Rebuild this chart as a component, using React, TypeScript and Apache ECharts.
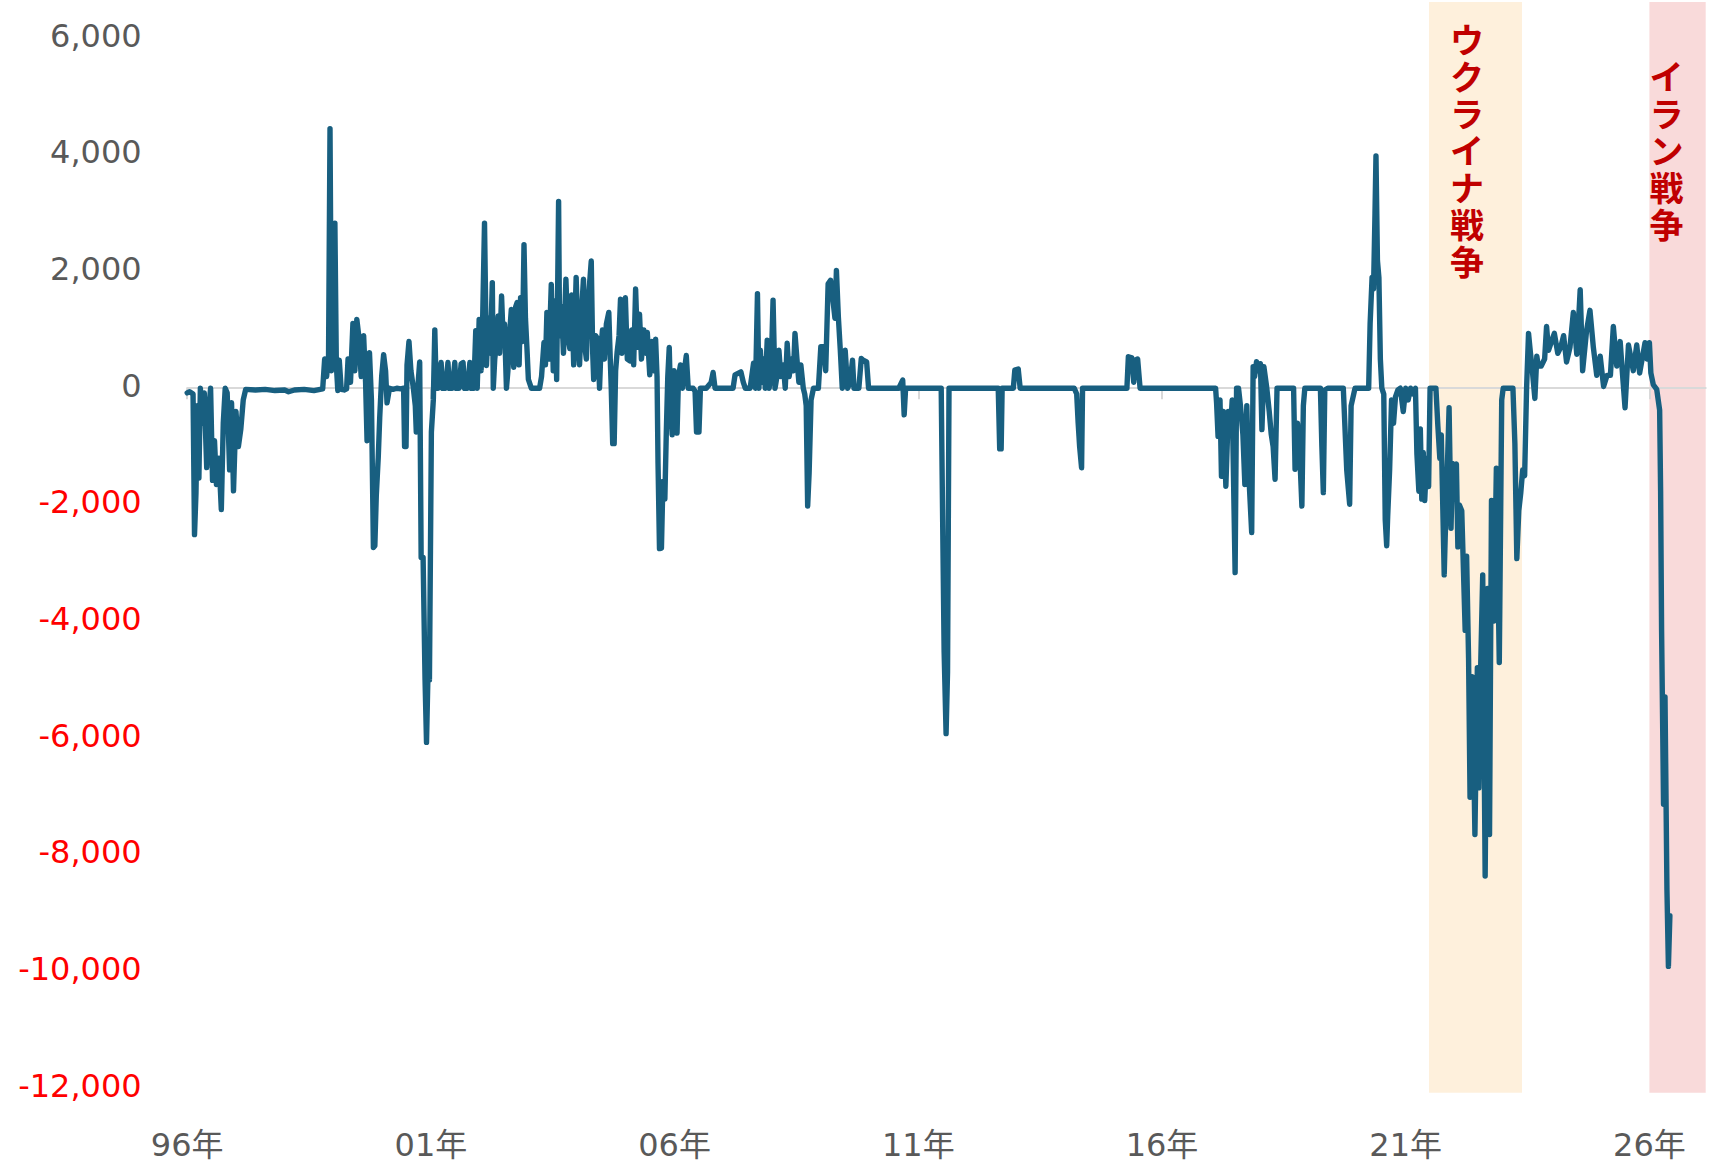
import React, { useEffect, useRef } from "react";
import * as echarts from "echarts";

// [decimal year, value]
const flows1996to2000: [number, number][] = [
  [1996.0, -80], [1996.05, -60], [1996.12, -100], [1996.15, -2510], [1996.18, -1800], [1996.21, -300],
  [1996.24, -1540], [1996.27, 0], [1996.31, -600], [1996.35, -80], [1996.4, -1360], [1996.44, -400],
  [1996.48, 0], [1996.52, -1580], [1996.56, -900], [1996.6, -1650], [1996.65, -1200], [1996.7, -2080],
  [1996.74, -600], [1996.78, 0], [1996.82, -80], [1996.87, -1400], [1996.91, -250], [1996.95, -1760],
  [1997.0, -400], [1997.05, -1000], [1997.1, -700], [1997.15, -200], [1997.2, -20], [1997.4, -30],
  [1997.6, -20], [1997.8, -40], [1998.0, -30], [1998.08, -60], [1998.2, -30], [1998.4, -20],
  [1998.6, -40], [1998.78, -10], [1998.82, 500], [1998.86, 200], [1998.9, 560], [1998.93, 4450],
  [1998.96, 300], [1999.0, 600], [1999.03, 2830], [1999.06, 400], [1999.09, -40], [1999.12, 480],
  [1999.16, -20], [1999.22, -30], [1999.27, -10], [1999.3, 500], [1999.35, 100], [1999.4, 1110],
  [1999.44, 300], [1999.48, 1180], [1999.52, 900], [1999.57, 200], [1999.62, 900], [1999.66, 100],
  [1999.69, -900], [1999.72, 0], [1999.74, 610], [1999.78, -200], [1999.82, -2730], [1999.85, -2700],
  [1999.88, -1830], [1999.92, -1180], [1999.95, -500], [1999.99, 200], [2000.03, 575], [2000.07, 300],
  [2000.1, -250], [2000.15, 0], [2000.22, -20], [2000.3, 0], [2000.38, -10], [2000.44, 0],
  [2000.46, -1000], [2000.49, -1000], [2000.51, 400], [2000.55, 800], [2000.59, 300], [2000.64, 0],
  [2000.68, -300], [2000.7, -750], [2000.73, 0], [2000.77, 450], [2000.8, -2900], [2000.84, -2900],
  [2000.88, -5000], [2000.91, -6070], [2000.95, -4500], [2000.97, -5000], [2001.01, -750],
  [2001.05, -200], [2001.08, 1000], [2001.11, 0],
];

const flows2001to2005: [number, number][] = [
  [2001.15, 0], [2001.21, 440], [2001.24, 0], [2001.3, 0], [2001.35, 440], [2001.38, 0], [2001.44, 0],
  [2001.49, 440], [2001.52, 0], [2001.58, 0], [2001.62, 420], [2001.66, 440], [2001.69, 0], [2001.75, 0],
  [2001.8, 440], [2001.83, 0], [2001.88, 0], [2001.92, 985], [2001.95, 0], [2001.99, 1180], [2002.03, 300],
  [2002.06, 1100], [2002.1, 2830], [2002.14, 390], [2002.18, 1200], [2002.22, 600], [2002.26, 1810],
  [2002.28, 0], [2002.31, 500], [2002.35, 800], [2002.38, 1240], [2002.41, 600], [2002.45, 1580],
  [2002.48, 900], [2002.51, 1100], [2002.55, 0], [2002.58, 300], [2002.62, 1000], [2002.65, 1350],
  [2002.7, 360], [2002.74, 1400], [2002.77, 1470], [2002.81, 400], [2002.84, 1550], [2002.88, 800],
  [2002.91, 2460], [2002.94, 1200], [2002.97, 700], [2003.0, 150], [2003.06, 0], [2003.15, 0],
  [2003.23, 0], [2003.27, 200], [2003.32, 785], [2003.35, 400], [2003.38, 1300], [2003.42, 500],
  [2003.47, 1780], [2003.51, 300], [2003.55, 1500], [2003.58, 150], [2003.62, 3200], [2003.64, 900],
  [2003.68, 1400], [2003.72, 600], [2003.77, 1870], [2003.81, 900], [2003.85, 680], [2003.89, 1600],
  [2003.93, 400], [2003.98, 1900], [2004.02, 800], [2004.05, 400], [2004.09, 1300], [2004.13, 1870],
  [2004.16, 700], [2004.19, 500], [2004.23, 1500], [2004.29, 2180], [2004.32, 600], [2004.34, 150],
  [2004.38, 900], [2004.42, 850], [2004.46, 0], [2004.49, 700], [2004.52, 1000], [2004.56, 500],
  [2004.6, 1100], [2004.65, 1300], [2004.68, 500], [2004.7, 0], [2004.73, -950], [2004.76, -950],
  [2004.79, 300], [2004.82, 615], [2004.86, 900], [2004.89, 1525], [2004.92, 600], [2004.96, 1200],
  [2004.99, 1550], [2005.03, 500], [2005.08, 470], [2005.12, 1000], [2005.16, 400], [2005.2, 1700],
  [2005.24, 700], [2005.28, 1270], [2005.32, 500], [2005.37, 1000], [2005.41, 600], [2005.44, 955],
  [2005.49, 230], [2005.53, 800], [2005.57, 300], [2005.61, 840], [2005.64, 200], [2005.66, -1290],
  [2005.69, -2750], [2005.73, -2740], [2005.76, -1600], [2005.8, -1900], [2005.83, -750], [2005.86, 200],
  [2005.89, 700], [2005.92, -300], [2005.95, -800], [2005.99, 300],
];

const flows2006to2010: [number, number][] = [
  [2006.05, -770], [2006.08, 200], [2006.12, 400], [2006.16, 0], [2006.2, 300], [2006.24, 560],
  [2006.28, 0], [2006.33, 0], [2006.38, 0], [2006.42, -50], [2006.45, -750], [2006.5, -750], [2006.53, 0],
  [2006.65, 0], [2006.75, 100], [2006.79, 270], [2006.83, 0], [2007.0, 0], [2007.2, 0], [2007.24, 230],
  [2007.3, 255], [2007.36, 280], [2007.41, 100], [2007.45, 0], [2007.55, 0], [2007.62, 430], [2007.66, 0],
  [2007.7, 1620], [2007.73, 0], [2007.76, 650], [2007.79, 100], [2007.83, 500], [2007.86, 0],
  [2007.9, 825], [2007.94, 0], [2007.98, 300], [2008.02, 1510], [2008.06, 0], [2008.1, 200],
  [2008.14, 650], [2008.18, 200], [2008.23, 400], [2008.27, 0], [2008.31, 770], [2008.35, 200],
  [2008.4, 500], [2008.44, 300], [2008.47, 940], [2008.51, 500], [2008.55, 100], [2008.59, 400],
  [2008.64, 0], [2008.67, -100], [2008.7, -300], [2008.73, -2020], [2008.76, -1450], [2008.8, -200],
  [2008.85, 0], [2008.95, 0], [2009.0, 710], [2009.06, 710], [2009.1, 300], [2009.15, 1790],
  [2009.2, 1850], [2009.25, 1500], [2009.29, 1200], [2009.32, 2020], [2009.36, 1220], [2009.4, 650],
  [2009.44, 0], [2009.5, 650], [2009.55, 0], [2009.6, 100], [2009.65, 480], [2009.68, 0], [2009.78, 0],
  [2009.83, 510], [2009.87, 480], [2009.94, 450], [2009.98, 0], [2010.2, 0], [2010.4, 0], [2010.6, 0],
  [2010.68, 140], [2010.71, -455], [2010.74, 0], [2010.9, 0], [2011.1, 0], [2011.3, 0], [2011.47, 0],
];

const flows2011to2015: [number, number][] = [
  [2011.5, -2300], [2011.53, -4520], [2011.57, -5920], [2011.6, -4860], [2011.63, 0], [2011.67, 0],
  [2011.9, 0], [2012.2, 0], [2012.5, 0], [2012.64, 0], [2012.67, -1040], [2012.7, -1040], [2012.72, 0],
  [2012.95, 0], [2012.98, 310], [2013.05, 330], [2013.09, 0], [2013.3, 0], [2013.6, 0], [2013.9, 0],
  [2014.2, 0], [2014.25, -100], [2014.28, -600], [2014.31, -1000], [2014.35, -1365], [2014.37, 0],
  [2014.6, 0], [2014.9, 0], [2015.2, 0], [2015.28, 0], [2015.31, 540], [2015.38, 520], [2015.42, 100],
  [2015.45, 480], [2015.5, 500], [2015.55, 0], [2015.8, 0],
];

const flows2016to2020: [number, number][] = [
  [2016.2, 0], [2016.6, 0], [2017.0, 0], [2017.1, 0], [2017.12, -255], [2017.15, -825], [2017.19, -200],
  [2017.22, -1510], [2017.26, -400], [2017.31, -1680], [2017.36, -400], [2017.4, -800], [2017.44, -200],
  [2017.5, -3160], [2017.53, 0], [2017.57, 0], [2017.61, -300], [2017.66, -800], [2017.7, -1650],
  [2017.74, -300], [2017.77, -1300], [2017.84, -2475], [2017.87, 370], [2017.9, 200], [2017.94, 455],
  [2017.98, 300], [2018.02, 420], [2018.05, -710], [2018.09, 370], [2018.15, 0], [2018.2, -400],
  [2018.24, -780], [2018.28, -1000], [2018.32, -1560], [2018.36, 0], [2018.45, 0], [2018.55, 0],
  [2018.7, 0], [2018.73, -1390], [2018.78, -600], [2018.82, -1000], [2018.87, -2020], [2018.9, -300],
  [2018.93, 0], [2019.05, 0], [2019.25, 0], [2019.28, -1000], [2019.31, -1790], [2019.34, -30],
  [2019.4, 0], [2019.55, 0], [2019.72, 0], [2019.79, -1400], [2019.85, -1990], [2019.88, -300],
  [2019.96, 0], [2020.1, 0], [2020.24, 0], [2020.27, 1110], [2020.31, 1900], [2020.34, 1700],
  [2020.37, 3000], [2020.39, 3980], [2020.42, 2190], [2020.45, 1900], [2020.48, 500], [2020.51, 0],
  [2020.55, -100], [2020.58, -2250], [2020.61, -2700], [2020.63, -2200], [2020.67, -1400],
  [2020.71, -200], [2020.75, -600], [2020.79, -150], [2020.84, -30], [2020.89, 0],
];

const flows2021to2026: [number, number][] = [
  [2020.95, -400], [2021.0, 0], [2021.05, -200], [2021.1, 0], [2021.15, -100], [2021.2, 0],
  [2021.23, -1130], [2021.27, -1765], [2021.3, -700], [2021.33, -1900], [2021.36, -1100],
  [2021.39, -1925], [2021.43, -1200], [2021.47, -1685], [2021.5, 0], [2021.55, 0], [2021.62, 0],
  [2021.66, -650], [2021.7, -1200], [2021.73, -800], [2021.79, -3200], [2021.81, -2560], [2021.85, -1500],
  [2021.89, -335], [2021.93, -2400], [2021.96, -1290], [2022.0, -1400], [2022.04, -1300], [2022.07, -2720],
  [2022.1, -2000], [2022.15, -2100], [2022.22, -4150], [2022.25, -2880], [2022.29, -4630],
  [2022.32, -7010], [2022.35, -5000], [2022.37, -4945], [2022.42, -7650], [2022.47, -4790],
  [2022.5, -6850], [2022.54, -4700], [2022.58, -3200], [2022.63, -8360], [2022.68, -3430],
  [2022.72, -7650], [2022.76, -1925], [2022.81, -3990], [2022.86, -1370], [2022.92, -4700],
  [2022.97, -200], [2023.0, 0], [2023.12, 0], [2023.2, 0], [2023.24, -950], [2023.28, -2920],
  [2023.32, -2100], [2023.36, -1800], [2023.4, -1400], [2023.44, -1500], [2023.48, 0], [2023.52, 940],
  [2023.56, 600], [2023.59, 380], [2023.65, -175], [2023.69, 550], [2023.72, 380], [2023.78, 380],
  [2023.85, 500], [2023.89, 1060], [2023.93, 650], [2023.99, 800], [2024.05, 940], [2024.12, 600],
  [2024.18, 700], [2024.24, 900], [2024.3, 450], [2024.37, 700], [2024.44, 1300], [2024.51, 580],
  [2024.58, 1690], [2024.63, 300], [2024.71, 980], [2024.78, 1335], [2024.85, 700], [2024.92, 220],
  [2024.99, 550], [2025.06, 30], [2025.13, 220], [2025.2, 220], [2025.26, 1060], [2025.33, 380],
  [2025.4, 800], [2025.45, 220], [2025.5, -335], [2025.57, 740], [2025.67, 300], [2025.74, 740],
  [2025.8, 260], [2025.91, 780], [2025.95, 500], [2026.0, 780], [2026.03, 260], [2026.08, 60],
  [2026.15, -20], [2026.21, -375], [2026.23, -1765], [2026.25, -4150], [2026.29, -7130],
  [2026.32, -5290], [2026.36, -8600], [2026.39, -9910], [2026.42, -9040],
];

const yearTicks = [1996, 2001, 2006, 2011, 2016, 2021, 2026];
const valueTicks = [-12000, -10000, -8000, -6000, -4000, -2000, 0, 2000, 4000, 6000];
const ukraineBand = [2021.478, 2023.386];
const iranBand = [2026.0, 2027.155];
const ukraineLabel = "ウクライナ戦争";
const iranLabel = "イラン戦争";

const X_MIN = 1996;
const X_MAX = 2027.155;
const Y_MIN = -12075;
const Y_MAX = 6620;

const FONT = "'DejaVu Sans', 'Noto Sans CJK JP', sans-serif";
const LINE_COLOR = "#185F80";

const vertical = (s: string) => s.split("").join("\n");

export default function App() {
  const ref = useRef<HTMLDivElement>(null);

  useEffect(() => {
    if (!ref.current) return;
    const chart = echarts.init(ref.current, null, { renderer: "svg" });
    const series = [
      ...flows1996to2000,
      ...flows2001to2005,
      ...flows2006to2010,
      ...flows2011to2015,
      ...flows2016to2020,
      ...flows2021to2026,
    ];
    const bandLabel = (dx: number) => ({
      show: true,
      position: [dx, 147],
      align: "center",
      verticalAlign: "middle",
      color: "#C00000",
      fontSize: 34,
      lineHeight: 37,
      fontWeight: "bold",
      fontFamily: "'Noto Sans CJK JP', sans-serif",
    });
    const option: any = {
      animation: false,
      backgroundColor: "#ffffff",
      grid: { left: 187.2, right: 3.3, top: 2, bottom: 74.3, containLabel: false },
      xAxis: [
        {
          type: "value",
          min: X_MIN,
          max: X_MAX,
          position: "bottom",
          axisLine: { show: false, onZero: false },
          axisTick: { show: false },
          splitLine: { show: false },
          axisLabel: {
            customValues: yearTicks,
            formatter: (v: number) => String(Math.round(v) % 100).padStart(2, "0") + "年",
            margin: 36,
            fontSize: 32,
            lineHeight: 32,
            color: "#595959",
            fontFamily: FONT,
          },
        },
        {
          type: "value",
          min: X_MIN,
          max: X_MAX,
          position: "top",
          z: 1.5,
          axisLine: { show: true, onZero: true, lineStyle: { color: "#D9D9D9", width: 2 } },
          axisTick: {
            show: true,
            inside: true,
            length: 11,
            customValues: yearTicks,
            lineStyle: { color: "#D9D9D9", width: 2 },
          },
          axisLabel: { show: false },
          splitLine: { show: false },
        },
      ],
      yAxis: {
        type: "value",
        min: Y_MIN,
        max: Y_MAX,
        axisLine: { show: false },
        axisTick: { show: false },
        splitLine: { show: false },
        axisLabel: {
          customValues: valueTicks,
          margin: 45.5,
          fontSize: 32,
          fontFamily: FONT,
          verticalAlign: "bottom",
          lineHeight: 5,
          formatter: (v: number) => Number(v).toLocaleString("en-US"),
          color: (v: any) => (Number(v) < 0 ? "#FF0000" : "#595959"),
        },
      },
      series: [
        {
          type: "line",
          data: series,
          symbol: "none",
          z: 2,
          lineStyle: { color: LINE_COLOR, width: 5.4, cap: "round", join: "round" },
          markArea: {
            silent: true,
            data: [
              [
                {
                  name: vertical(ukraineLabel),
                  xAxis: ukraineBand[0],
                  yAxis: Y_MAX,
                  itemStyle: { color: "#FEF0DC" },
                  label: bandLabel(38),
                },
                { xAxis: ukraineBand[1], yAxis: Y_MIN },
              ],
              [
                {
                  name: vertical(iranLabel),
                  xAxis: iranBand[0],
                  yAxis: Y_MAX,
                  itemStyle: { color: "#F9DADA" },
                  label: bandLabel(17),
                },
                { xAxis: iranBand[1], yAxis: Y_MIN },
              ],
            ],
          },
        },
      ],
    };
    chart.setOption(option);
    return () => chart.dispose();
  }, []);

  return (
    <div
      ref={ref}
      style={{ position: "fixed", left: 0, top: 0, width: 1709, height: 1167, background: "#fff" }}
    />
  );
}
